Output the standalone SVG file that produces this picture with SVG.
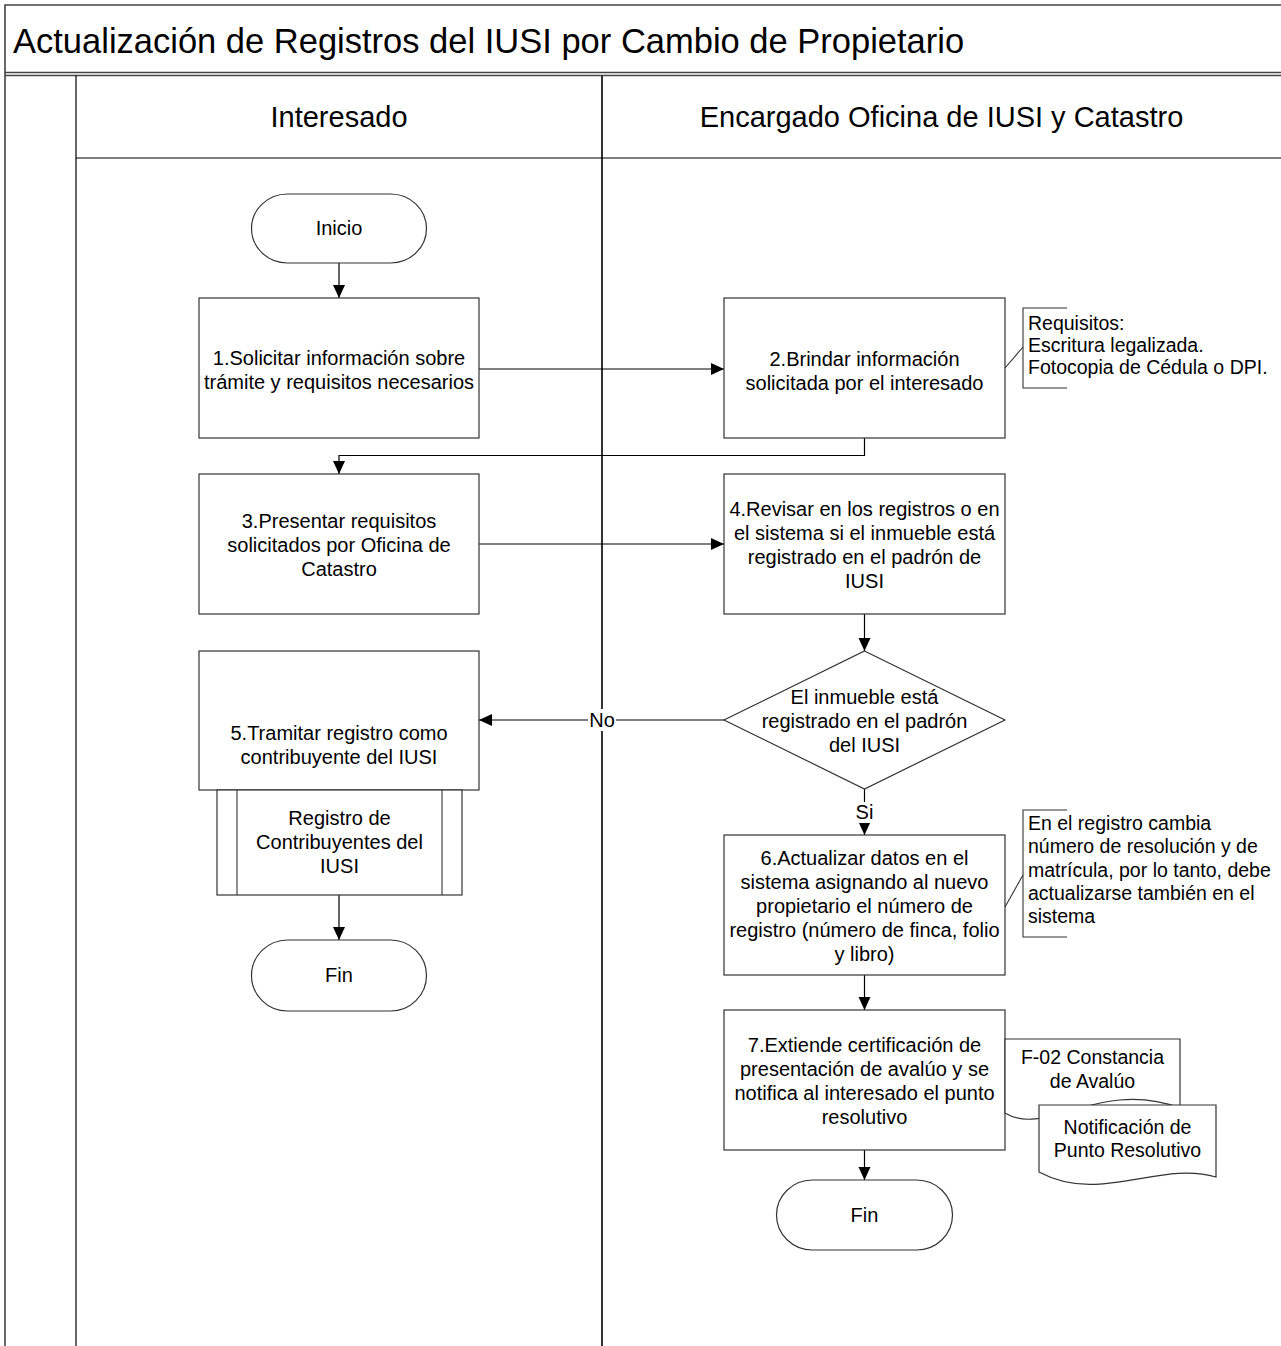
<svg xmlns="http://www.w3.org/2000/svg" width="1281" height="1346" viewBox="0 0 1281 1346">
  <style>
    text { font-family: "Liberation Sans", Arial, sans-serif; fill: #000; }
    .title { font-size: 34.5px; }
    .lane { font-size: 29px; text-anchor: middle; }
    .lbl { font-size: 20px; text-anchor: middle; }
    .note { font-size: 19.5px; }
    .doc { font-size: 19.5px; text-anchor: middle; }
    .shape { fill: #fff; stroke: #333; stroke-width: 1.2; }
    .frame { fill: none; stroke: #444; stroke-width: 1.6; }
    .conn { fill: none; stroke: #000; stroke-width: 1.2; }
    .brace { fill: none; stroke: #333; stroke-width: 1.1; }
  </style>
  <defs>
    <marker id="arrow" markerUnits="userSpaceOnUse" markerWidth="14" markerHeight="13" refX="13" refY="6" orient="auto">
      <path d="M0,0 L13,6 L0,12 Z" fill="#000"/>
    </marker>
  </defs>

  <rect width="1281" height="1346" fill="#fff"/>

  <!-- pool frame, title bar and swimlanes -->
  <g id="pool">
    <path class="frame" d="M5,1346 V5 H1281"/>
    <line class="frame" x1="5" y1="72.5" x2="1281" y2="72.5"/>
    <line class="frame" x1="5" y1="75.5" x2="1281" y2="75.5"/>
    <text class="title" x="13" y="53">Actualización de Registros del IUSI por Cambio de Propietario</text>
  </g>
  <g id="lanes">
    <line stroke="#000" stroke-width="1.2" x1="76" y1="75.5" x2="76" y2="1346"/>
    <line stroke="#333" stroke-width="2" x1="602" y1="75.5" x2="602" y2="1346"/>
    <line stroke="#000" stroke-width="1.2" x1="76" y1="158" x2="1281" y2="158"/>
    <text class="lane" x="339" y="127">Interesado</text>
    <text class="lane" x="941.5" y="127">Encargado Oficina de IUSI y Catastro</text>
  </g>

  <!-- connectors -->
  <g id="connectors">
    <line class="conn" x1="339" y1="263" x2="339" y2="298" marker-end="url(#arrow)"/>
    <line class="conn" x1="479" y1="369" x2="724" y2="369" marker-end="url(#arrow)"/>
    <path class="conn" d="M864.5,438 V455.5 H339 V474" marker-end="url(#arrow)"/>
    <line class="conn" x1="479" y1="544" x2="724" y2="544" marker-end="url(#arrow)"/>
    <line class="conn" x1="864.5" y1="614" x2="864.5" y2="651" marker-end="url(#arrow)"/>
    <line class="conn" x1="724" y1="720" x2="479" y2="720" marker-end="url(#arrow)"/>
    <line class="conn" x1="864.5" y1="789" x2="864.5" y2="835" marker-end="url(#arrow)"/>
    <line class="conn" x1="864.5" y1="975" x2="864.5" y2="1010" marker-end="url(#arrow)"/>
    <line class="conn" x1="864.5" y1="1150" x2="864.5" y2="1180" marker-end="url(#arrow)"/>
    <line class="conn" x1="339" y1="895" x2="339" y2="940" marker-end="url(#arrow)"/>
    <rect x="588" y="709" width="28" height="22" fill="#fff"/>
    <text class="lbl" x="602" y="727">No</text>
    <rect x="853" y="802" width="23" height="21" fill="#fff"/>
    <text class="lbl" x="864.5" y="819">Si</text>
  </g>

  <g id="inicio">
    <rect class="shape" x="251.5" y="194" width="175" height="69" rx="36" ry="34.5"/>
    <text class="lbl" x="339" y="235">Inicio</text>
  </g>

  <g id="paso1">
    <rect class="shape" x="199" y="298" width="280" height="140"/>
    <text class="lbl" x="339" y="365">1.Solicitar información sobre</text>
    <text class="lbl" x="339" y="389">trámite y requisitos necesarios</text>
  </g>

  <g id="paso2">
    <rect class="shape" x="724" y="298" width="281" height="140"/>
    <text class="lbl" x="864.5" y="366">2.Brindar información</text>
    <text class="lbl" x="864.5" y="390">solicitada por el interesado</text>
  </g>

  <g id="nota-requisitos">
    <line class="brace" x1="1005" y1="368" x2="1023" y2="347"/>
    <path class="brace" d="M1067,308 H1023 V388 H1067"/>
    <text class="note" x="1028" y="330">Requisitos:</text>
    <text class="note" x="1028" y="352">Escritura legalizada.</text>
    <text class="note" x="1028" y="374">Fotocopia de Cédula o DPI.</text>
  </g>

  <g id="paso3">
    <rect class="shape" x="199" y="474" width="280" height="140"/>
    <text class="lbl" x="339" y="528">3.Presentar requisitos</text>
    <text class="lbl" x="339" y="552">solicitados por Oficina de</text>
    <text class="lbl" x="339" y="576">Catastro</text>
  </g>

  <g id="paso4">
    <rect class="shape" x="724" y="474" width="281" height="140"/>
    <text class="lbl" x="864.5" y="516">4.Revisar en los registros o en</text>
    <text class="lbl" x="864.5" y="540">el sistema si el inmueble está</text>
    <text class="lbl" x="864.5" y="564">registrado en el padrón de</text>
    <text class="lbl" x="864.5" y="588">IUSI</text>
  </g>

  <g id="decision">
    <polygon class="shape" points="864.5,651 1005,720 864.5,789 724,720"/>
    <text class="lbl" x="864.5" y="704">El inmueble está</text>
    <text class="lbl" x="864.5" y="728">registrado en el padrón</text>
    <text class="lbl" x="864.5" y="752">del IUSI</text>
  </g>

  <g id="paso5">
    <rect class="shape" x="199" y="651" width="280" height="139"/>
    <text class="lbl" x="339" y="740">5.Tramitar registro como</text>
    <text class="lbl" x="339" y="764">contribuyente del IUSI</text>
  </g>

  <g id="registro-contribuyentes">
    <rect class="shape" x="217" y="790" width="245" height="105"/>
    <line class="brace" x1="237" y1="790" x2="237" y2="895"/>
    <line class="brace" x1="442" y1="790" x2="442" y2="895"/>
    <text class="lbl" x="339.5" y="825">Registro de</text>
    <text class="lbl" x="339.5" y="849">Contribuyentes del</text>
    <text class="lbl" x="339.5" y="873">IUSI</text>
  </g>

  <g id="fin-interesado">
    <rect class="shape" x="251.5" y="940" width="175" height="71" rx="36" ry="35.5"/>
    <text class="lbl" x="339" y="982">Fin</text>
  </g>

  <g id="paso6">
    <rect class="shape" x="724" y="835" width="281" height="140"/>
    <text class="lbl" x="864.5" y="865">6.Actualizar datos en el</text>
    <text class="lbl" x="864.5" y="889">sistema asignando al nuevo</text>
    <text class="lbl" x="864.5" y="913">propietario el número de</text>
    <text class="lbl" x="864.5" y="937">registro (número de finca, folio</text>
    <text class="lbl" x="864.5" y="961">y libro)</text>
  </g>

  <g id="nota-registro">
    <line class="brace" x1="1005" y1="907" x2="1023" y2="875"/>
    <path class="brace" d="M1067,810 H1023 V937 H1067"/>
    <text class="note" x="1028" y="830">En el registro cambia</text>
    <text class="note" x="1028" y="853">número de resolución y de</text>
    <text class="note" x="1028" y="877">matrícula, por lo tanto, debe</text>
    <text class="note" x="1028" y="900">actualizarse también en el</text>
    <text class="note" x="1028" y="923">sistema</text>
  </g>

  <g id="paso7">
    <rect class="shape" x="724" y="1010" width="281" height="140"/>
    <text class="lbl" x="864.5" y="1052">7.Extiende certificación de</text>
    <text class="lbl" x="864.5" y="1076">presentación de avalúo y se</text>
    <text class="lbl" x="864.5" y="1100">notifica al interesado el punto</text>
    <text class="lbl" x="864.5" y="1124">resolutivo</text>
  </g>

  <g id="doc-constancia">
    <path class="shape" d="M1005,1039 H1180 V1108 C1100,1078 1045,1138 1005,1113 Z"/>
    <text class="doc" x="1092.5" y="1064">F-02 Constancia</text>
    <text class="doc" x="1092.5" y="1088">de Avalúo</text>
  </g>

  <g id="doc-notificacion">
    <path class="shape" d="M1039,1105 H1216 V1177 C1160,1160 1100,1205 1039,1172 Z"/>
    <text class="doc" x="1127.5" y="1134">Notificación de</text>
    <text class="doc" x="1127.5" y="1157">Punto Resolutivo</text>
  </g>

  <g id="fin-oficina">
    <rect class="shape" x="776.5" y="1180" width="176" height="70" rx="36" ry="35"/>
    <text class="lbl" x="864.5" y="1222">Fin</text>
  </g>
</svg>
